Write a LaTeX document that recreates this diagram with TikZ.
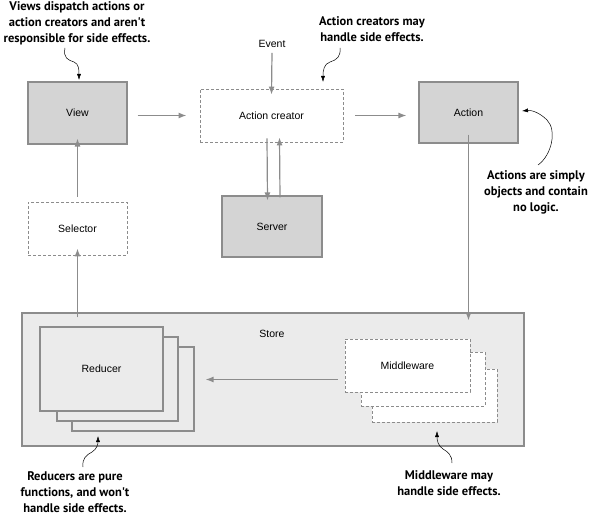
\documentclass[tikz,border=0pt]{standalone}
\usepackage{fontspec}
\setmainfont{Liberation Sans}
\newfontfamily\notefont{PT Sans}
\usetikzlibrary{arrows.meta,calc}
\definecolor{boxfill}{HTML}{D4D4D4}
\definecolor{storefill}{HTML}{EBEBEB}
\definecolor{edge}{HTML}{8C8C8C}
\tikzset{
  x=1pt,y=-1pt,
  solidbox/.style={draw=edge,line width=1.1pt,fill=boxfill,inner sep=0pt,font=\fontsize{10.5}{12}\selectfont},
  dashbox/.style={draw=edge,line width=0.9pt,dashed,dash pattern=on 3pt off 2pt,fill=white,inner sep=0pt,font=\fontsize{10.5}{12}\selectfont},
  redbox/.style={draw=edge,line width=1.1pt,fill=storefill,inner sep=0pt,font=\fontsize{10.5}{12}\selectfont},
  garrow/.style={draw=edge,line width=1.2pt,-{Latex[length=8pt,width=6pt]}},
  note/.style={align=center,font=\notefont\bfseries\fontsize{12.5}{16}\selectfont,inner sep=0pt},
  narrow/.style={draw=black,line width=0.5pt,-{Latex[length=6pt,width=4pt]}},
  plain/.style={font=\fontsize{10.5}{12}\selectfont,inner sep=0pt}
}
\begin{document}
\begin{tikzpicture}
\useasboundingbox (0,0) rectangle (590,516);
% boxes
\node[solidbox,minimum width=99pt,minimum height=62pt] (V) at (77.5,113) {View};
\node[dashbox,minimum width=143pt,minimum height=53pt] (AC) at (271.5,115.5) {Action creator};
\node[solidbox,minimum width=99pt,minimum height=61pt] (A) at (468.5,112.5) {Action};
\node[dashbox,minimum width=99pt,minimum height=53pt] (S) at (77.5,228.5) {Selector};
\node[solidbox,minimum width=100pt,minimum height=61pt] (SV) at (272,226.5) {Server};
\node[plain] (E) at (272,44) {Event};
% store
\node[draw=edge,line width=1.1pt,fill=storefill,minimum width=502pt,minimum height=133pt,inner sep=0pt] (ST) at (273,379.5) {};
\node[plain] (STL) at (272,334) {Store};
\node[redbox,minimum width=122pt,minimum height=84pt] (R3) at (133,389) {};
\node[redbox,minimum width=121pt,minimum height=84pt] (R2) at (117.5,379) {};
\node[redbox,minimum width=123pt,minimum height=84pt] (R1) at (101.5,369) {Reducer};
\node[dashbox,minimum width=125pt,minimum height=53pt] (M3) at (434.5,395.5) {};
\node[dashbox,minimum width=124pt,minimum height=54pt] (M2) at (423,379) {};
\node[dashbox,minimum width=125pt,minimum height=53pt] (M1) at (407.5,365.5) {Middleware};
% gray arrows
\draw[garrow] ([xshift=10pt]V.east|-AC.west) -- ([xshift=-13pt]AC.west);
\draw[garrow] ([xshift=12pt]AC.east) -- ([xshift=-12pt]A.west|-AC.west);
\draw[garrow] ([yshift=-5pt]E.south) -- ([yshift=-6pt]AC.north);
\draw[garrow] ([xshift=-4.5pt,yshift=4pt]AC.south) -- ([xshift=-4.5pt,yshift=-5pt]SV.north);
\draw[garrow] ([xshift=8pt,yshift=-2pt]SV.north) -- ([xshift=8pt,yshift=5pt]AC.south);
\draw[garrow] ([yshift=9pt]A.south) -- ([yshift=-8pt]A.south|-ST.north);
\draw[garrow] ([yshift=-5pt]S.north|-ST.north) -- ([yshift=7pt]S.south);
\draw[garrow] ([yshift=5pt]S.north) -- ([yshift=6pt]V.south);
\draw[garrow] ([xshift=-7pt]M1.west|-ST.center) -- ([xshift=11pt]R3.east|-ST.center);
% notes
\node[note] (N1) at (77,23) {Views dispatch actions or\\action creators and aren't\\responsible for side effects.};
\node[note] (N2) at (372,29) {Action creators may\\handle side effects.};
\node[note] (N3) at (536,192) {Actions are simply\\objects and contain\\no logic.};
\node[note] (N4) at (449,483) {Middleware may\\handle side effects.};
\node[note] (N5) at (75,492) {Reducers are pure\\functions, and won't\\handle side effects.};
\coordinate (T1) at (79,80);
\coordinate (T2) at (323,82);
\coordinate (T3) at (522,111);
\coordinate (T4) at (437,431);
\coordinate (T5) at (98,436);
\draw[narrow] (65,48) .. controls (63,58) and (68,60) .. (74,62) .. controls (79,64) and (79,70) .. (T1);
\draw[narrow] (340,48) .. controls (341,56) and (337,60) .. (330,62) .. controls (324,64) and (323,70) .. (T2);
\draw[narrow] (538,165) .. controls (552,155) and (557,130) .. (547,120) .. controls (540,113) and (532,110) .. (T3);
\draw[narrow] (452,463) .. controls (452,455) and (448,452) .. (443,449) .. controls (438,446) and (437,440) .. (T4);
\draw[narrow] (83,467) .. controls (82,459) and (86,455) .. (92,452) .. controls (97,449) and (98,444) .. (T5);
\end{tikzpicture}
\end{document}
